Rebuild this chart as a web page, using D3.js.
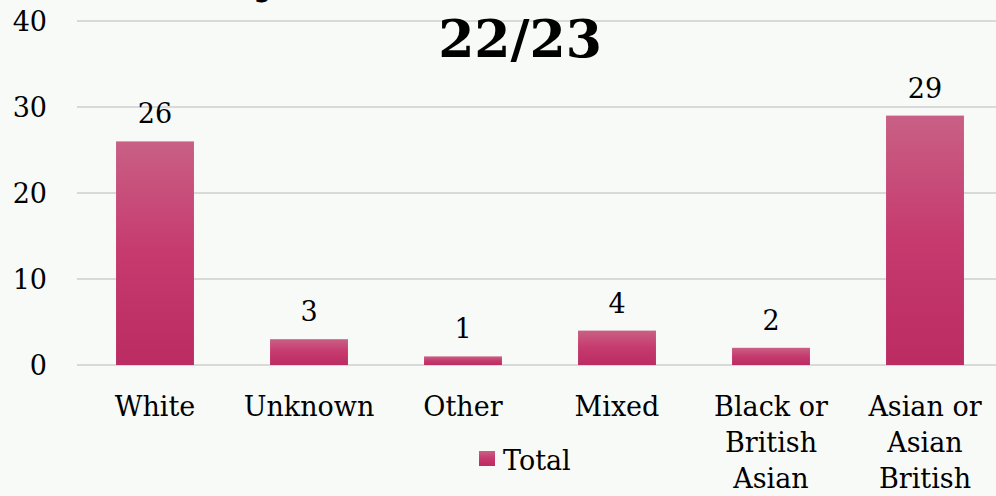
<!DOCTYPE html>
<html>
<head>
<meta charset="utf-8">
<script src="https://cdn.jsdelivr.net/npm/d3@7"></script>
<style>
  html, body { margin: 0; padding: 0; background: #f8faf8; overflow: hidden; }
  text { font-family: "DejaVu Serif", serif; fill: #000; }
</style>
</head>
<body>
<div id="chart"></div>
<script>
// chart data
var categories = ["White", "Unknown", "Other", "Mixed", "Black or British Asian", "Asian or Asian British"];
var labelLines = [["White"], ["Unknown"], ["Other"], ["Mixed"], ["Black or", "British", "Asian"], ["Asian or", "Asian", "British"]];
var totals = [26, 3, 1, 4, 2, 29];
var yTicks = [0, 10, 20, 30, 40];
var seriesName = "Total";

function main() {
    const canvasWidth = 996;
    const canvasHeight = 496;

    var svg = d3.select("#chart").append("svg")
        .attr("width", canvasWidth)
        .attr("height", canvasHeight)

    svg.append("rect")
        .attr("width", canvasWidth)
        .attr("height", canvasHeight)
        .style("fill", "#f8faf8")

    var grad = svg.append("defs").append("linearGradient")
        .attr("id", "barGrad")
        .attr("x1", 0).attr("y1", 0).attr("x2", 0).attr("y2", 1)
    grad.append("stop").attr("offset", "0%").attr("stop-color", "#c96085")
    grad.append("stop").attr("offset", "50%").attr("stop-color", "#c63a6e")
    grad.append("stop").attr("offset", "100%").attr("stop-color", "#bb2c62")

    var x = d3.scaleBand()
        .domain(categories)
        .range([78, 1002])
        .paddingInner(0.494)
        .paddingOuter(0.247)

    var y = d3.scaleLinear()
        .domain([0, 40])
        .range([365, 21])

    // gridlines
    svg.selectAll("line.grid")
        .data(yTicks)
        .enter()
        .append("line")
        .attr("class", "grid")
        .attr("x1", 77)
        .attr("x2", canvasWidth)
        .attr("y1", function (d) { return y(d); })
        .attr("y2", function (d) { return y(d); })
        .style("stroke", "#d9d9d9")
        .style("stroke-width", 2)

    // y tick labels
    svg.selectAll("text.ytick")
        .data(yTicks)
        .enter()
        .append("text")
        .attr("class", "ytick")
        .attr("x", 47)
        .attr("y", function (d) { return y(d); })
        .attr("dy", "0.36em")
        .attr("text-anchor", "end")
        .style("font-size", "27px")
        .text(function (d) { return d; })

    // title (first line is cut by the top edge, as in the original)
    svg.append("text")
        .attr("x", 282)
        .attr("y", -8)
        .attr("text-anchor", "end")
        .style("font-size", "48px")
        .style("font-weight", "bold")
        .text("Ethnicity")
    svg.append("text")
        .attr("x", 520)
        .attr("y", 57)
        .attr("text-anchor", "middle")
        .style("font-size", "52px")
        .style("font-weight", "bold")
        .text("22/23")

    // bars
    svg.selectAll("rect.bar")
        .data(totals)
        .enter()
        .append("rect")
        .attr("class", "bar")
        .attr("x", function (d, i) { return x(categories[i]); })
        .attr("width", x.bandwidth())
        .attr("y", function (d) { return y(d); })
        .attr("height", function (d) { return y(0) - y(d); })
        .style("fill", "url(#barGrad)")

    // value labels
    svg.selectAll("text.value")
        .data(totals)
        .enter()
        .append("text")
        .attr("class", "value")
        .attr("x", function (d, i) { return x(categories[i]) + x.bandwidth() / 2; })
        .attr("y", function (d) { return y(d) - 18; })
        .attr("text-anchor", "middle")
        .style("font-size", "27px")
        .text(function (d) { return d; })

    // category labels
    var xl = svg.selectAll("text.xlabel")
        .data(categories)
        .enter()
        .append("text")
        .attr("class", "xlabel")
        .attr("text-anchor", "middle")
        .style("font-size", "27px")
    xl.selectAll("tspan")
        .data(function (d, i) { return labelLines[i].map(function (t) { return { t: t, c: d }; }); })
        .enter()
        .append("tspan")
        .attr("x", function (d) { return x(d.c) + x.bandwidth() / 2; })
        .attr("y", function (d, j) { return 416 + j * 36; })
        .text(function (d) { return d.t; })

    // legend
    svg.append("rect")
        .attr("x", 479)
        .attr("y", 451)
        .attr("width", 16)
        .attr("height", 15)
        .style("fill", "url(#barGrad)")
    svg.append("text")
        .attr("x", 503)
        .attr("y", 470)
        .style("font-size", "27px")
        .text(seriesName)
}
main();
</script>
</body>
</html>
